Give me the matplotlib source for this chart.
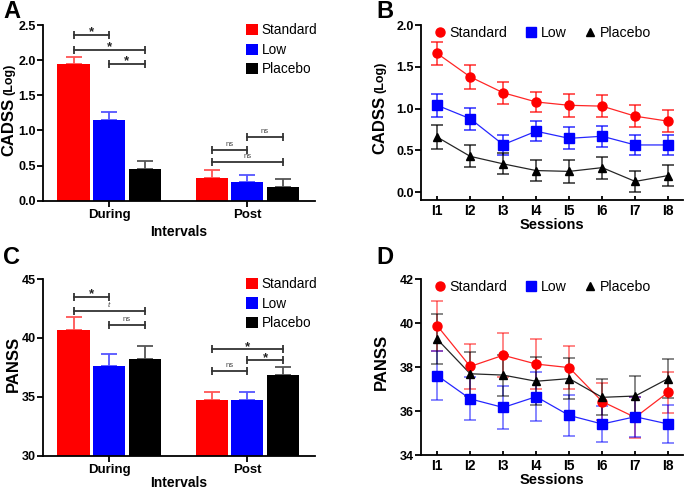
import matplotlib
matplotlib.use("Agg")
import matplotlib.pyplot as plt
from matplotlib.patches import Patch
from matplotlib.lines import Line2D
import numpy as np

plt.rcParams['font.family'] = ['Liberation Sans', 'DejaVu Sans']

groups = ["Standard", "Low", "Placebo"]
colors = ["#ff0000", "#0000ff", "#000000"]
err_colors = ["#ff5555", "#5555ff", "#555555"]
intervals = ["During", "Post"]
sessions = ["I1", "I2", "I3", "I4", "I5", "I6", "I7", "I8"]

# Panel A: CADSS (Log) by interval
cadss_bar = {"Standard": [1.94, 0.33], "Low": [1.15, 0.26], "Placebo": [0.45, 0.20]}
cadss_bar_err = {"Standard": [0.11, 0.11], "Low": [0.11, 0.11], "Placebo": [0.11, 0.11]}

# Panel B: CADSS (Log) by session
cadss_line = {
    "Standard": [1.66, 1.38, 1.19, 1.08, 1.04, 1.03, 0.91, 0.85],
    "Low": [1.04, 0.88, 0.57, 0.73, 0.645, 0.67, 0.566, 0.566],
    "Placebo": [0.66, 0.43, 0.34, 0.26, 0.25, 0.295, 0.13, 0.20],
}
cadss_line_err = {
    "Standard": [0.14, 0.14, 0.13, 0.12, 0.14, 0.135, 0.13, 0.13],
    "Low": [0.14, 0.13, 0.12, 0.12, 0.13, 0.125, 0.12, 0.125],
    "Placebo": [0.145, 0.13, 0.125, 0.125, 0.14, 0.13, 0.128, 0.127],
}

# Panel C: PANSS by interval
panss_bar = {"Standard": [40.67, 34.7], "Low": [37.62, 34.7], "Placebo": [38.24, 36.82]}
panss_bar_err = {"Standard": [1.07, 0.7], "Low": [1.05, 0.7], "Placebo": [1.05, 0.7]}

# Panel D: PANSS by session
panss_line = {
    "Standard": [39.88, 38.03, 38.54, 38.14, 37.98, 36.44, 35.72, 36.86],
    "Low": [37.62, 36.56, 36.17, 36.66, 35.81, 35.42, 35.75, 35.42],
    "Placebo": [39.27, 37.7, 37.64, 37.36, 37.48, 36.63, 36.69, 37.48],
}
panss_line_err = {
    "Standard": [1.13, 1.02, 1.0, 1.13, 0.96, 0.82, 0.93, 0.92],
    "Low": [1.1, 0.98, 0.98, 1.1, 0.92, 0.82, 0.9, 0.88],
    "Placebo": [1.13, 1.0, 0.93, 1.1, 0.93, 0.82, 0.92, 0.9],
}

# significance brackets: (interval, bar a, bar b, height, label)
cadss_sig = [(0, 0, 1, 2.36, "*"), (0, 0, 2, 2.15, "*"), (0, 1, 2, 1.95, "*"),
             (1, 0, 1, 0.72, "ns"), (1, 1, 2, 0.91, "ns"), (1, 0, 2, 0.55, "ns")]
panss_sig = [(0, 0, 1, 43.5, "*"), (0, 0, 2, 42.3, "t"), (0, 1, 2, 41.1, "ns"),
             (1, 0, 2, 39.03, "*"), (1, 1, 2, 38.12, "*"), (1, 0, 1, 37.19, "ns")]

W, H = 685, 490
fig = plt.figure(figsize=(W / 100, H / 100), dpi=100)


def px_axes(left, top, right, bottom):
    return fig.add_axes([left / W, 1 - bottom / H, (right - left) / W, (bottom - top) / H])


def style(ax):
    for s in ["top", "right"]:
        ax.spines[s].set_visible(False)
    for s in ["left", "bottom"]:
        ax.spines[s].set_linewidth(1.3)
    ax.tick_params(axis="y", direction="out", length=4, width=1.3, labelsize=9, pad=1)
    for lab in ax.get_yticklabels() + ax.get_xticklabels():
        lab.set_fontweight("bold")


offs = [-0.257, 0, 0.257]
bw = 0.232


def bar_panel(ax, data, err, sig, ylim, yticks, xpad):
    x = np.arange(len(intervals))
    for i, g in enumerate(groups):
        ax.bar(x + offs[i], data[g], bw, color=colors[i], zorder=2)
        ax.errorbar(x + offs[i], data[g], yerr=[np.zeros(2), err[g]], fmt="none",
                    ecolor=err_colors[i], elinewidth=1.3, capsize=6, capthick=1.3, zorder=1)
    for gi, a, b, y, lab in sig:
        xa, xb = gi + offs[a], gi + offs[b]
        ax.plot([xa, xb], [y, y], color="#333333", lw=1.3, marker="|", markersize=6,
                markeredgewidth=1.3, clip_on=False)
        xm = (xa + xb) / 2
        if lab == "*":
            ax.annotate("*", (xm, y), xytext=(0, -0.5), textcoords="offset points",
                        ha="center", va="baseline", fontsize=9.5, fontweight="bold",
                        color="#222222")
        elif lab == "t":
            ax.annotate("t", (xm, y), xytext=(0, 1.5), textcoords="offset points",
                        ha="center", va="bottom", fontsize=6, style="italic", color="#444444")
        else:
            ax.annotate("ns", (xm, y), xytext=(0, 1.5), textcoords="offset points",
                        ha="center", va="bottom", fontsize=5.5, color="#444444")
    ax.set_xlim(-0.48, 1.49)
    ax.set_ylim(*ylim)
    ax.set_yticks(yticks)
    ax.set_xticks(x)
    ax.set_xticklabels(intervals)
    ax.tick_params(axis="x", direction="out", length=4, width=1.3, labelsize=9.5, pad=2)
    ax.set_xlabel("Intervals", fontsize=10, fontweight="bold", labelpad=xpad)
    style(ax)
    handles = [Patch(facecolor=c, label=g) for g, c in zip(groups, colors)]
    ax.legend(handles=handles, loc="upper left", bbox_to_anchor=(0.725, 1.04), frameon=False,
              fontsize=9.8, handlelength=0.9, handleheight=0.9, handletextpad=0.3,
              labelspacing=0.4, borderaxespad=0)


def line_panel(ax, data, err, ylim, yticks, alpha):
    x = np.arange(1, len(sessions) + 1)
    markers = ["o", "s", "^"]
    msizes = [6.5, 6.5, 5.5]
    for i, g in enumerate(groups):
        ax.errorbar(x, data[g], yerr=err[g], fmt="none", ecolor=colors[i], alpha=alpha,
                    elinewidth=1.2, capsize=4, capthick=1.2, zorder=1)
        ax.plot(x, data[g], color=colors[i], lw=0.9, alpha=0.85, zorder=2)
        ax.plot(x, data[g], linestyle="none", marker=markers[i], markersize=msizes[i],
                color=colors[i], zorder=3)
    ax.set_xlim(0.5, 8.45)
    ax.set_ylim(*ylim)
    ax.set_yticks(yticks)
    ax.set_xticks(x)
    ax.set_xticklabels(sessions)
    ax.tick_params(axis="x", direction="in", length=3, width=1.3, labelsize=10, pad=3)
    ax.set_xlabel("Sessions", fontsize=10.5, fontweight="bold", labelpad=0)
    style(ax)
    handles = [Line2D([], [], linestyle="none", marker=m, markersize=s, color=c, label=g)
               for g, c, m, s in zip(groups, colors, markers, msizes)]
    ax.legend(handles=handles, loc="upper left", bbox_to_anchor=(0.035, 1.025), ncol=3,
              frameon=False, fontsize=10.2, handlelength=0.6, handletextpad=0.4,
              columnspacing=1.35, borderaxespad=0)


renderer = fig.canvas.get_renderer()


def ylabel(main, sub, x, y_start):
    # y_start: pixel row (from top) where the rotated label starts (its lower end)
    t = fig.text(x / W, 1 - y_start / H, main, rotation=90, ha="center", va="bottom",
                 fontsize=12, fontweight="bold")
    if sub:
        h = t.get_window_extent(renderer).height
        fig.text(x / W + 0.001, 1 - (y_start - h - 3) / H, sub, rotation=90, ha="center",
                 va="bottom", fontsize=9, fontweight="bold")


axA = px_axes(42.7, 25, 315, 200.7)
bar_panel(axA, cadss_bar, cadss_bar_err, cadss_sig, (0, 2.5), [0, 0.5, 1.0, 1.5, 2.0, 2.5], 2.5)
axA.set_yticklabels(["0.0", "0.5", "1.0", "1.5", "2.0", "2.5"], fontweight="bold")

axB = px_axes(420.7, 25, 683, 200)
line_panel(axB, cadss_line, cadss_line_err, (-0.092, 2.0), [0, 0.5, 1.0, 1.5, 2.0], 0.75)
axB.set_yticklabels(["0.0", "0.5", "1.0", "1.5", "2.0"], fontweight="bold")

axC = px_axes(42.7, 279, 315, 455.7)
bar_panel(axC, panss_bar, panss_bar_err, panss_sig, (30, 45), [30, 35, 40, 45], 0)

axD = px_axes(420.7, 279, 683, 455.3)
line_panel(axD, panss_line, panss_line_err, (34, 42), [34, 36, 38, 40, 42], 0.55)

ylabel("CADSS", "(Log)", 9, 156)
ylabel("CADSS", "(Log)", 380, 154)
ylabel("PANSS", None, 13, 392)
ylabel("PANSS", None, 381, 390)

for lab, x, y in [("A", 3, 12), ("B", 376, 12), ("C", 3, 258), ("D", 376, 258)]:
    fig.text(x / W, 1 - y / H, lab, fontsize=17, fontweight="bold", va="center", ha="left")

fig.savefig("out.png", dpi=100)
